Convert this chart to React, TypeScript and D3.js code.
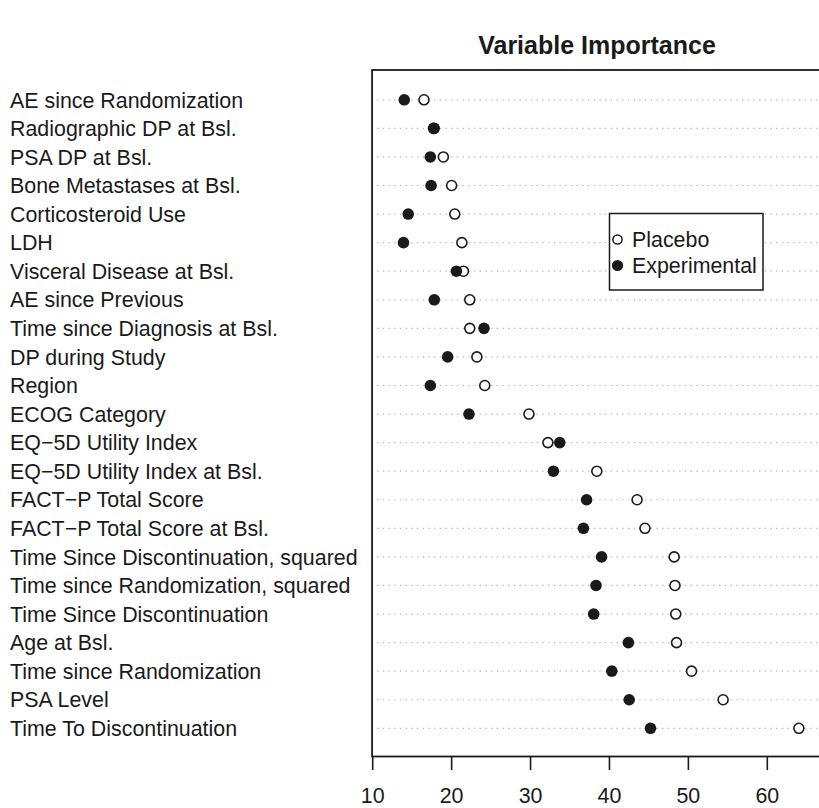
import React from "react";
import * as d3 from "d3";

const categories = [
  "AE since Randomization",
  "Radiographic DP at Bsl.",
  "PSA DP at Bsl.",
  "Bone Metastases at Bsl.",
  "Corticosteroid Use",
  "LDH",
  "Visceral Disease at Bsl.",
  "AE since Previous",
  "Time since Diagnosis at Bsl.",
  "DP during Study",
  "Region",
  "ECOG Category",
  "EQ\u22125D Utility Index",
  "EQ\u22125D Utility Index at Bsl.",
  "FACT\u2212P Total Score",
  "FACT\u2212P Total Score at Bsl.",
  "Time Since Discontinuation, squared",
  "Time since Randomization, squared",
  "Time Since Discontinuation",
  "Age at Bsl.",
  "Time since Randomization",
  "PSA Level",
  "Time To Discontinuation",
];

const placebo = [
  16.5, 17.7, 18.95, 20.0, 20.4, 21.3, 21.5, 22.3, 22.3, 23.2, 24.2, 29.8,
  32.2, 38.4, 43.5, 44.5, 48.2, 48.3, 48.4, 48.5, 50.4, 54.4, 64.0,
];

const experimental = [
  14.0, 17.8, 17.3, 17.4, 14.5, 13.9, 20.6, 17.8, 24.1, 19.5, 17.3, 22.2,
  33.7, 32.9, 37.1, 36.7, 39.0, 38.3, 38.0, 42.4, 40.3, 42.5, 45.2,
];

const xTicks = [10, 20, 30, 40, 50, 60];
const legendLabels = ["Placebo", "Experimental"];
const title = "Variable Importance";

const W = 819;
const H = 808;
const FONT = "'Liberation Sans', Arial, Helvetica, sans-serif";

export default function App() {
  const x = d3.scaleLinear().domain([10, 60]).range([372.7, 767.3]);
  const y = d3.scalePoint<string>().domain(categories).range([99.8, 728.3]);

  const plotLeft = x(9.92);
  const plotRight = 826;
  const plotTop = 70;
  const plotBottom = 756.5;
  const ink = "#1a1a1a";
  const fs = 21.4;

  return (
    <svg
      width={W}
      height={H}
      style={{ position: "absolute", left: 0, top: 0, background: "#fff" }}
      fontFamily={FONT}
    >
      <rect x={0} y={0} width={W} height={H} fill="#fff" />
      <text
        x={597}
        y={54}
        textAnchor="middle"
        fontSize={25}
        fontWeight="bold"
        fill={ink}
      >
        {title}
      </text>

      {categories.map((c) => (
        <line
          key={"g" + c}
          x1={plotLeft + 5}
          x2={plotRight}
          y1={y(c)}
          y2={y(c)}
          stroke="#b8b8b8"
          strokeWidth={1.2}
          strokeDasharray="1.4 4.3"
        />
      ))}

      {categories.map((c) => (
        <text key={"l" + c} x={10} y={(y(c) as number) + 7.7} fontSize={fs} fill={ink}>
          {c}
        </text>
      ))}

      {categories.map((c, i) => (
        <circle
          key={"p" + c}
          cx={x(placebo[i])}
          cy={y(c)}
          r={5}
          fill="#fff"
          stroke={ink}
          strokeWidth={1.6}
        />
      ))}
      {categories.map((c, i) => (
        <circle
          key={"e" + c}
          cx={x(experimental[i])}
          cy={y(c)}
          r={5.8}
          fill={ink}
        />
      ))}

      <rect
        x={plotLeft}
        y={plotTop}
        width={plotRight - plotLeft}
        height={plotBottom - plotTop}
        fill="none"
        stroke={ink}
        strokeWidth={1.8}
      />

      {xTicks.map((t) => (
        <g key={"t" + t}>
          <line x1={x(t)} x2={x(t)} y1={plotBottom} y2={770} stroke={ink} strokeWidth={1.6} />
          <text x={x(t)} y={803} textAnchor="middle" fontSize={fs} fill={ink}>
            {t}
          </text>
        </g>
      ))}

      <rect x={609.5} y={213.5} width={153.5} height={76.5} fill="#fff" stroke={ink} strokeWidth={1.5} />
      <circle cx={617.5} cy={239.5} r={4.6} fill="#fff" stroke={ink} strokeWidth={1.5} />
      <text x={632} y={247} fontSize={fs} fill={ink}>
        {legendLabels[0]}
      </text>
      <circle cx={617.5} cy={265.5} r={5.6} fill={ink} />
      <text x={632} y={273} fontSize={fs} fill={ink}>
        {legendLabels[1]}
      </text>
    </svg>
  );
}
